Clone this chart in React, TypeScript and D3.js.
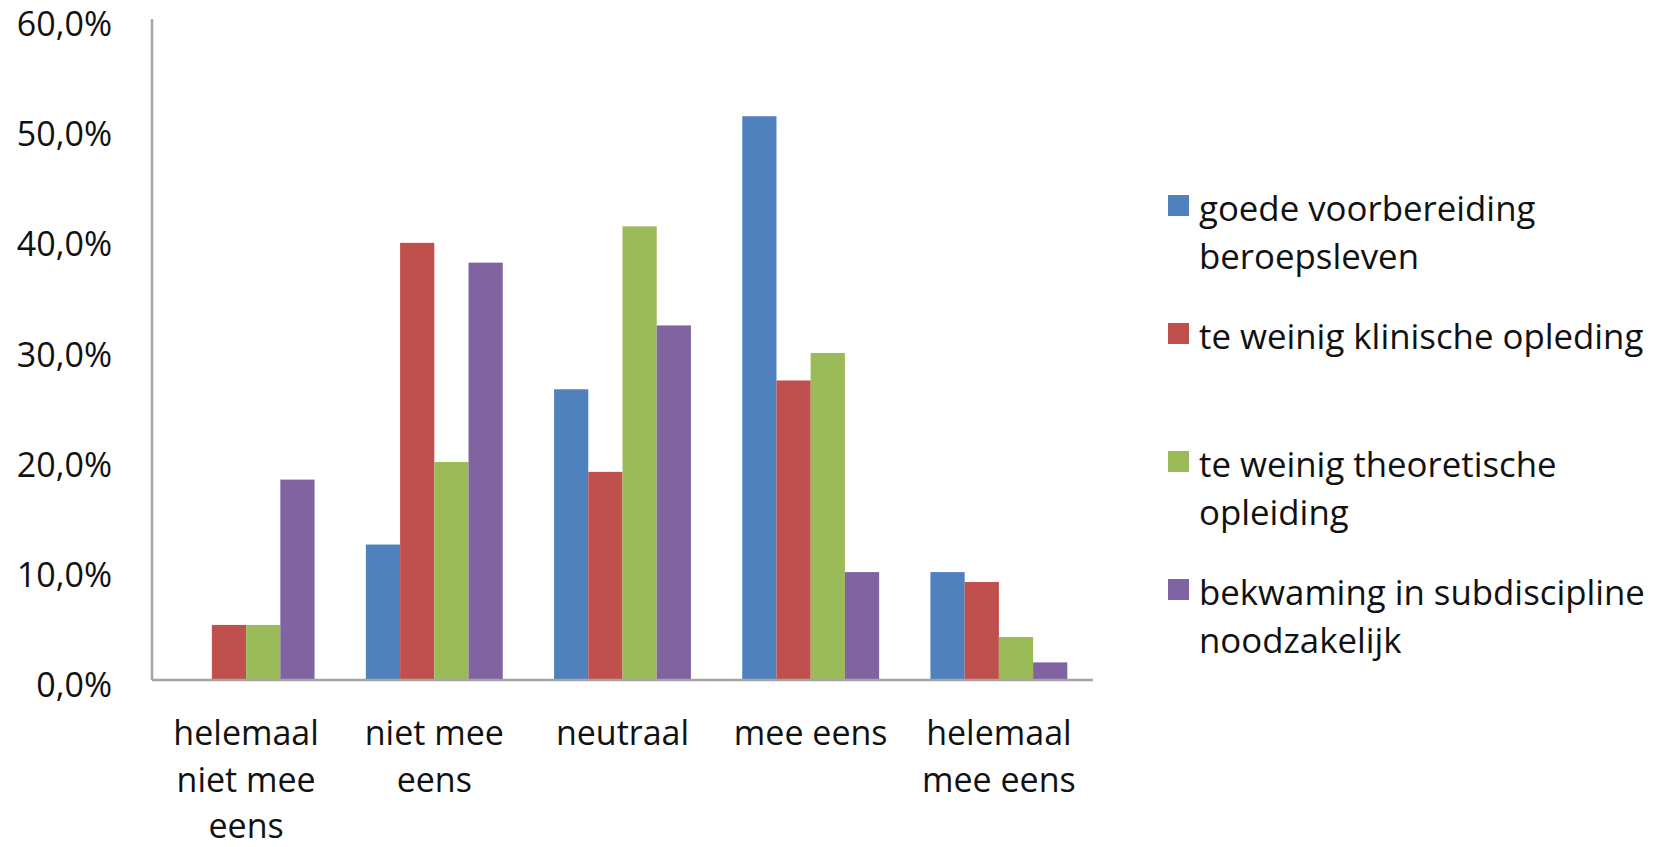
import * as d3 from 'd3';

const categories = [
  ['helemaal', 'niet mee', 'eens'],
  ['niet mee', 'eens'],
  ['neutraal'],
  ['mee eens'],
  ['helemaal', 'mee eens'],
];

const seriesNames = [
  ['goede voorbereiding', 'beroepsleven'],
  ['te weinig klinische opleding'],
  ['te weinig theoretische', 'opleiding'],
  ['bekwaming in subdiscipline', 'noodzakelijk'],
];

const seriesColors = ['#4F81BD', '#C0504D', '#9BBB59', '#8064A2'];

const goedeVoorbereiding = [0, 12.3, 26.4, 51.2, 9.8];
const klinischeOpleding = [5.0, 39.7, 18.9, 27.2, 8.9];
const theoretischeOpleding = [5.0, 19.8, 41.2, 29.7, 3.9];
const bekwamingSubdiscipline = [18.2, 37.9, 32.2, 9.8, 1.6];

const seriesValues = [goedeVoorbereiding, klinischeOpleding, theoretischeOpleding, bekwamingSubdiscipline];

const yTicks = [0, 10, 20, 30, 40, 50, 60];

const W = 1663;
const H = 847;
const FONT = '"Open Sans", sans-serif';

export default function App() {
  const margin = { top: 19.3, left: 152, right: 1093, bottom: 680 };

  const catIdx = categories.map((_, i) => String(i));
  const x0 = d3
    .scaleBand<string>()
    .domain(catIdx)
    .range([margin.left, margin.right])
    .paddingInner(0.2727)
    .paddingOuter(0.1364);

  const x1 = d3
    .scaleBand<string>()
    .domain(seriesNames.map((_, i) => String(i)))
    .range([0, x0.bandwidth()]);

  const y = d3.scaleLinear().domain([0, 60]).range([margin.bottom, margin.top]);

  const fmt = (v: number) => d3.format('.1f')(v).replace('.', ',') + '%';

  // legend rows, equally spaced
  const legendY = d3.scalePoint<string>()
    .domain(seriesNames.map((_, i) => String(i)))
    .range([212, 596]);

  return (
    <svg
      width={W}
      height={H}
      style={{ position: 'absolute', left: 0, top: 0, background: '#fff' }}
      fontFamily={FONT}
    >
      {/* bars */}
      {categories.map((_, ci) => (
        <g key={ci} transform={`translate(${x0(String(ci))},0)`}>
          {seriesValues.map((vals, si) => (
            <rect
              key={si}
              x={x1(String(si))}
              y={y(vals[ci])}
              width={x1.bandwidth()}
              height={y(0) - y(vals[ci])}
              fill={seriesColors[si]}
            />
          ))}
        </g>
      ))}

      {/* axes */}
      <line x1={margin.left} x2={margin.left} y1={margin.top} y2={margin.bottom} stroke="#A5A5A5" strokeWidth={2.5} />
      <line x1={margin.left} x2={margin.right} y1={margin.bottom} y2={margin.bottom} stroke="#A5A5A5" strokeWidth={2.5} />

      {/* y tick labels */}
      {yTicks.map((t) => (
        <text
          key={t}
          x={112}
          y={y(t) + 5}
          dy="0.35em"
          textAnchor="end"
          fontSize={34}
          fill="#111"
        >
          {fmt(t)}
        </text>
      ))}

      {/* x category labels */}
      {categories.map((lines, ci) => (
        <text
          key={ci}
          x={(x0(String(ci)) ?? 0) + x0.bandwidth() / 2}
          y={745}
          textAnchor="middle"
          fontSize={34}
          fill="#111"
        >
          {lines.map((l, li) => (
            <tspan key={li} x={(x0(String(ci)) ?? 0) + x0.bandwidth() / 2} dy={li === 0 ? 0 : 46.5}>
              {l}
            </tspan>
          ))}
        </text>
      ))}

      {/* legend */}
      {seriesNames.map((lines, si) => {
        const cy = legendY(String(si)) ?? 0;
        return (
          <g key={si}>
            <rect x={1168} y={cy - 17} width={21} height={21} fill={seriesColors[si]} />
            <text x={1199} y={cy + 9} fontSize={34.8} fill="#111">
              {lines.map((l, li) => (
                <tspan key={li} x={1199} dy={li === 0 ? 0 : 47.5}>
                  {l}
                </tspan>
              ))}
            </text>
          </g>
        );
      })}
    </svg>
  );
}
